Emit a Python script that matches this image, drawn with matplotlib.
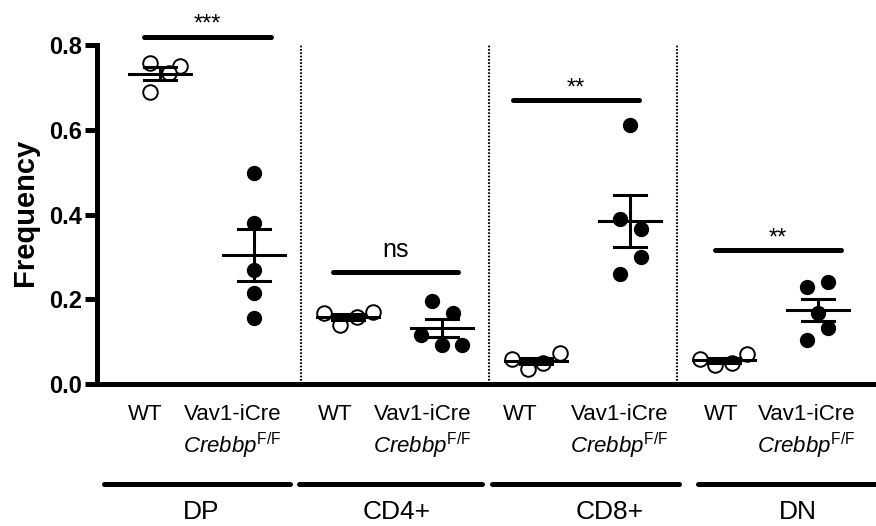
import numpy as np
import matplotlib
matplotlib.use("Agg")
import matplotlib.pyplot as plt

plt.rcParams["font.family"] = ["Liberation Sans", "DejaVu Sans"]
plt.rcParams["mathtext.fontset"] = "custom"
plt.rcParams["mathtext.rm"] = "Liberation Sans"
plt.rcParams["mathtext.it"] = "Liberation Sans:italic"

# thymocyte subsets, WT vs Vav1-iCre Crebbp F/F
subsets = ["DP", "CD4+", "CD8+", "DN"]
genotypes = ["WT", "Vav1-iCre"]

dp_wt = [0.757, 0.750, 0.733, 0.690]
dp_ko = [0.498, 0.380, 0.269, 0.215, 0.156]
cd4_wt = [0.1675, 0.139, 0.158, 0.170]
cd4_ko = [0.196, 0.1675, 0.116, 0.092, 0.092]
cd8_wt = [0.059, 0.035, 0.050, 0.073]
cd8_ko = [0.611, 0.389, 0.366, 0.300, 0.260]
dn_wt = [0.059, 0.045, 0.050, 0.071]
dn_ko = [0.229, 0.241, 0.1675, 0.132, 0.104]

significance = ["***", "ns", "**", "**"]
yticks = [0.0, 0.2, 0.4, 0.6, 0.8]

groups = [dp_wt, dp_ko, cd4_wt, cd4_ko, cd8_wt, cd8_ko, dn_wt, dn_ko]

# horizontal scatter of the points inside each column (layout only)
jitter = [[-0.11, 0.21, 0.10, -0.11],
          [0, 0, 0, 0, 0],
          [-0.26, -0.09, 0.10, 0.27],
          [-0.11, 0.12, -0.22, 0.0, 0.21],
          [-0.26, -0.09, 0.07, 0.26],
          [0, -0.11, 0.12, 0.12, -0.11],
          [-0.26, -0.10, 0.09, 0.24],
          [-0.12, 0.11, 0, 0.11, -0.12]]

fig = plt.figure(figsize=(8.76, 5.26), dpi=100)
ax = fig.add_axes([97 / 876, 142 / 526, 1 - 97 / 876, (384 - 45) / 526])

lw = 3.6
for i, vals in enumerate(groups):
    xc = i + 1
    vals = np.array(vals)
    xs = xc + np.array(jitter[i])
    if i % 2 == 0:
        ax.plot(xs, vals, "o", ms=10.5, mfc="white", mec="black", mew=1.4,
                zorder=3, clip_on=False)
    else:
        ax.plot(xs, vals, "o", ms=10, color="black", zorder=3, clip_on=False)
    m = vals.mean()
    sem = vals.std(ddof=1) / np.sqrt(len(vals))
    ax.plot([xc - 0.33, xc + 0.33], [m, m], "k-", lw=2.2, zorder=4)
    ax.plot([xc, xc], [m - sem, m + sem], "k-", lw=2.2, zorder=4)
    for e in (m - sem, m + sem):
        ax.plot([xc - 0.175, xc + 0.175], [e, e], "k-", lw=2.2, zorder=4)

# dotted separators between subsets
for xs in (2.5, 4.5, 6.5):
    ax.plot([xs, xs], [0, 0.8], color="black", lw=1.5,
            linestyle=(0, (0.8, 0.8)), zorder=1)

# significance bars
sig_bars = [(0.83, 2.18, 0.819, 0.834),
            (2.84, 4.17, 0.264, 0.300),
            (4.755, 6.10, 0.670, 0.683),
            (6.90, 8.24, 0.316, 0.329)]
for (x0, x1, yb, yt), lab in zip(sig_bars, significance):
    ax.plot([x0, x1], [yb, yb], "k-", lw=lw, solid_capstyle="round",
            clip_on=False)
    fs = 18 if lab == "ns" else 17
    ax.text((x0 + x1) / 2, yt, lab, ha="center", va="baseline", fontsize=fs,
            clip_on=False)

ax.set_xlim(0.33, 8.617)
ax.set_ylim(0, 0.8)
ax.set_yticks(yticks)
ax.set_yticklabels(["%.1f" % t for t in yticks], fontweight="bold", fontsize=17)
ax.tick_params(axis="y", length=8.5, width=lw, pad=2)
ax.set_xticks([])
for s in ("top", "right"):
    ax.spines[s].set_visible(False)
for s in ("left", "bottom"):
    ax.spines[s].set_linewidth(lw)

fig.text(25 / 876, 1 - 212 / 526, "Frequency", rotation=90, ha="center",
         va="center", fontsize=21, fontweight="bold")

# genotype labels under each column
label_x = [0.84, 1.77, 2.86, 3.79, 4.83, 5.89, 6.97, 7.88]
for i, lx in enumerate(label_x):
    if i % 2 == 0:
        ax.text(lx, -0.071, genotypes[0], ha="center", va="center",
                fontsize=16, clip_on=False)
    else:
        ax.text(lx, -0.071, genotypes[1], ha="center", va="center",
                fontsize=16, clip_on=False)
        ax.text(lx, -0.146, r"$\mathit{Crebbp}^{\mathrm{F/F}}$", ha="center",
                va="center", fontsize=16, clip_on=False)

# subset bars and names
group_bars = [(0.40, 2.38), (2.48, 4.43), (4.53, 6.52), (6.72, 9.0)]
group_x = [1.44, 3.52, 5.78, 7.79]
for (x0, x1), gx, name in zip(group_bars, group_x, subsets):
    ax.plot([x0, x1], [-0.236, -0.236], "k-", lw=lw, solid_capstyle="round",
            clip_on=False)
    ax.text(gx, -0.302, name, ha="center", va="center", fontsize=19,
            clip_on=False)

fig.savefig("out.png", dpi=100)
